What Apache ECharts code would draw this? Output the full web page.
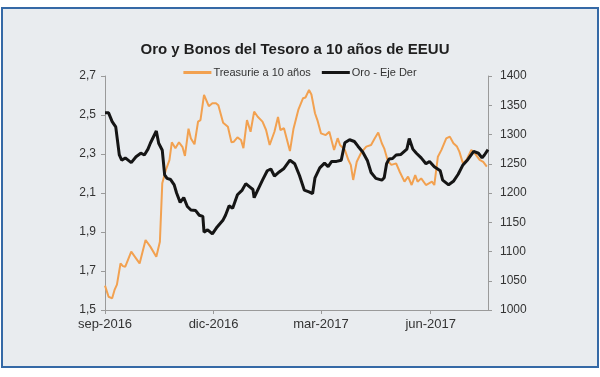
<!DOCTYPE html>
<html>
<head>
<meta charset="utf-8">
<script src="https://cdn.jsdelivr.net/npm/echarts@6/dist/echarts.min.js"></script>
<style>
html,body{margin:0;padding:0;background:#ffffff;}
#frame{position:absolute;left:1px;top:7px;width:594px;height:357px;border:2px solid #3569a6;background:#e9ecef;}
#chart{position:absolute;left:0;top:0;width:600px;height:377px;}
</style>
</head>
<body>
<div id="frame"></div>
<div id="chart"></div>
<script>
const titleText = 'Oro y Bonos del Tesoro a 10 años de EEUU';
const seriesNames = ['Treasurie a 10 años', 'Oro - Eje Der'];
const xTickDates = ['2016-09-01', '2016-12-01', '2017-03-01', '2017-06-01'];
const xTickLabels = ['sep-2016', 'dic-2016', 'mar-2017', 'jun-2017'];
const xRange = ['2016-09-01', '2017-07-19'];

const tsyDates = ['2016-09-01','2016-09-04','2016-09-07','2016-09-09','2016-09-11','2016-09-14','2016-09-16','2016-09-18','2016-09-23','2016-09-27','2016-09-30','2016-10-05','2016-10-09','2016-10-14','2016-10-17','2016-10-19','2016-10-22','2016-10-25','2016-10-27','2016-10-30','2016-11-02','2016-11-05','2016-11-07','2016-11-10','2016-11-12','2016-11-15','2016-11-18','2016-11-20','2016-11-23','2016-11-27','2016-11-30','2016-12-03','2016-12-05','2016-12-09','2016-12-13','2016-12-16','2016-12-18','2016-12-21','2016-12-24','2016-12-26','2016-12-29','2017-01-01','2017-01-04','2017-01-07','2017-01-11','2017-01-14','2017-01-17','2017-01-21','2017-01-24','2017-01-26','2017-01-29','2017-02-03','2017-02-06','2017-02-10','2017-02-14','2017-02-16','2017-02-19','2017-02-21','2017-02-24','2017-02-26','2017-03-01','2017-03-05','2017-03-08','2017-03-12','2017-03-15','2017-03-17','2017-03-21','2017-03-24','2017-03-26','2017-03-28','2017-03-31','2017-04-04','2017-04-08','2017-04-12','2017-04-15','2017-04-18','2017-04-21','2017-04-23','2017-04-26','2017-04-29','2017-05-03','2017-05-06','2017-05-10','2017-05-13','2017-05-16','2017-05-19','2017-05-21','2017-05-24','2017-05-28','2017-06-02','2017-06-04','2017-06-07','2017-06-10','2017-06-14','2017-06-17','2017-06-20','2017-06-23','2017-06-25','2017-06-28','2017-07-01','2017-07-05','2017-07-08','2017-07-12','2017-07-15','2017-07-18'];
const tsyValues = [1.625,1.568,1.560,1.603,1.630,1.739,1.725,1.722,1.799,1.765,1.739,1.859,1.825,1.773,1.850,2.150,2.218,2.269,2.360,2.330,2.360,2.335,2.290,2.430,2.380,2.350,2.466,2.474,2.603,2.545,2.560,2.560,2.550,2.460,2.440,2.360,2.363,2.385,2.372,2.330,2.474,2.414,2.517,2.491,2.466,2.423,2.346,2.414,2.490,2.423,2.432,2.315,2.430,2.526,2.586,2.590,2.628,2.605,2.509,2.474,2.406,2.397,2.414,2.321,2.381,2.346,2.321,2.269,2.244,2.167,2.260,2.310,2.338,2.346,2.380,2.410,2.355,2.329,2.265,2.244,2.252,2.209,2.158,2.184,2.141,2.192,2.158,2.175,2.141,2.158,2.141,2.286,2.321,2.380,2.389,2.355,2.338,2.312,2.252,2.269,2.321,2.303,2.270,2.260,2.235];

const goldDates = ['2016-09-01','2016-09-04','2016-09-07','2016-09-10','2016-09-13','2016-09-15','2016-09-18','2016-09-23','2016-09-27','2016-10-01','2016-10-04','2016-10-07','2016-10-09','2016-10-14','2016-10-16','2016-10-19','2016-10-21','2016-10-23','2016-10-26','2016-10-29','2016-10-31','2016-11-03','2016-11-06','2016-11-09','2016-11-12','2016-11-16','2016-11-19','2016-11-22','2016-11-23','2016-11-26','2016-11-30','2016-12-04','2016-12-09','2016-12-11','2016-12-14','2016-12-17','2016-12-21','2016-12-25','2016-12-28','2016-12-31','2017-01-03','2017-01-04','2017-01-07','2017-01-11','2017-01-15','2017-01-18','2017-01-21','2017-01-25','2017-01-29','2017-02-03','2017-02-07','2017-02-11','2017-02-15','2017-02-19','2017-02-22','2017-02-24','2017-02-28','2017-03-04','2017-03-07','2017-03-10','2017-03-14','2017-03-18','2017-03-21','2017-03-25','2017-03-29','2017-04-01','2017-04-05','2017-04-09','2017-04-12','2017-04-16','2017-04-21','2017-04-23','2017-04-25','2017-04-27','2017-04-30','2017-05-03','2017-05-07','2017-05-12','2017-05-14','2017-05-17','2017-05-20','2017-05-24','2017-05-28','2017-05-31','2017-06-04','2017-06-09','2017-06-11','2017-06-16','2017-06-20','2017-06-24','2017-06-28','2017-07-02','2017-07-07','2017-07-11','2017-07-14','2017-07-16','2017-07-19'];
const goldValues = [1337,1337,1322,1313,1265,1256,1260,1252,1262,1268,1265,1275,1285,1306,1285,1273,1231,1225,1223,1214,1200,1184,1192,1177,1171,1170,1162,1160,1133,1137,1130,1142,1154,1162,1178,1174,1197,1205,1216,1211,1206,1192,1205,1222,1238,1241,1229,1236,1242,1256,1250,1230,1205,1202,1199,1226,1243,1251,1245,1254,1254,1256,1286,1291,1288,1280,1270,1255,1235,1225,1222,1226,1250,1258,1259,1265,1266,1275,1293,1275,1268,1260,1250,1254,1245,1238,1222,1214,1220,1232,1248,1257,1271,1268,1260,1265,1274];

// Build a daily category list spanning the x range
function pad(n){ return (n < 10 ? '0' : '') + n; }
function fmt(d){ return d.getFullYear() + '-' + pad(d.getMonth()+1) + '-' + pad(d.getDate()); }
const days = [];
(function(){
  const a = xRange[0].split('-').map(Number), b = xRange[1].split('-').map(Number);
  const d = new Date(a[0], a[1]-1, a[2], 12), end = new Date(b[0], b[1]-1, b[2], 12);
  while (d <= end) { days.push(fmt(d)); d.setDate(d.getDate()+1); }
})();
function align(dates, vals){
  const m = {}; dates.forEach((d, i) => { m[d] = vals[i]; });
  return days.map(d => (d in m ? m[d] : null));
}

const chart = echarts.init(document.getElementById('chart'), null, {renderer:'canvas'});
const font = 'Liberation Sans, Arial, sans-serif';
const isTick = (idx, val) => xTickDates.indexOf(val) >= 0;
chart.setOption({
  backgroundColor: 'transparent',
  animation: false,
  title: {
    text: titleText,
    left: 290, top: 37, textAlign: 'center',
    textStyle: {fontFamily: font, fontSize: 15, fontWeight: 'bold', color: '#1f1f1f'}
  },
  legend: {
    top: 62, left: 'center',
    itemWidth: 28, itemHeight: 3, itemGap: 11,
    icon: 'rect',
    textStyle: {fontFamily: font, fontSize: 11, color: '#333', padding: [0,0,0,-3]},
    data: seriesNames
  },
  grid: {left: 105, right: 112, top: 76, bottom: 67},
  xAxis: {
    type: 'category',
    data: days,
    boundaryGap: false,
    axisLine: {show: true, lineStyle: {color: '#9a9a9a', width: 1}},
    axisTick: {show: true, interval: isTick, length: 4, lineStyle: {color: '#9a9a9a'}},
    axisLabel: {
      interval: isTick,
      fontFamily: font, fontSize: 13, color: '#333', margin: 8,
      formatter: function(v){ const i = xTickDates.indexOf(v); return i >= 0 ? xTickLabels[i] : ''; }
    },
    splitLine: {show: false}
  },
  yAxis: [{
    type: 'value', min: 1.5, max: 2.7, interval: 0.2,
    axisLine: {show: true, lineStyle: {color: '#9a9a9a'}},
    axisTick: {show: true, length: 4, lineStyle: {color: '#9a9a9a'}},
    axisLabel: {fontFamily: font, fontSize: 12, color: '#333', margin: 9,
      formatter: function(v){ return v.toFixed(1).replace('.', ','); }},
    splitLine: {show: false}
  }, {
    type: 'value', min: 1000, max: 1400, interval: 50, position: 'right',
    axisLine: {show: true, lineStyle: {color: '#9a9a9a'}},
    axisTick: {show: true, length: 4, lineStyle: {color: '#9a9a9a'}},
    axisLabel: {fontFamily: font, fontSize: 12, color: '#333', margin: 12,
      formatter: function(v){ return String(Math.round(v)); }},
    splitLine: {show: false}
  }],
  series: [{
    name: seriesNames[0], type: 'line', yAxisIndex: 0, symbol: 'none', connectNulls: true,
    data: align(tsyDates, tsyValues),
    lineStyle: {color: '#f2a150', width: 2},
    itemStyle: {color: '#f2a150'}
  }, {
    name: seriesNames[1], type: 'line', yAxisIndex: 1, symbol: 'none', connectNulls: true,
    data: align(goldDates, goldValues),
    lineStyle: {color: '#151515', width: 3},
    itemStyle: {color: '#151515'}
  }]
});
</script>
</body>
</html>
